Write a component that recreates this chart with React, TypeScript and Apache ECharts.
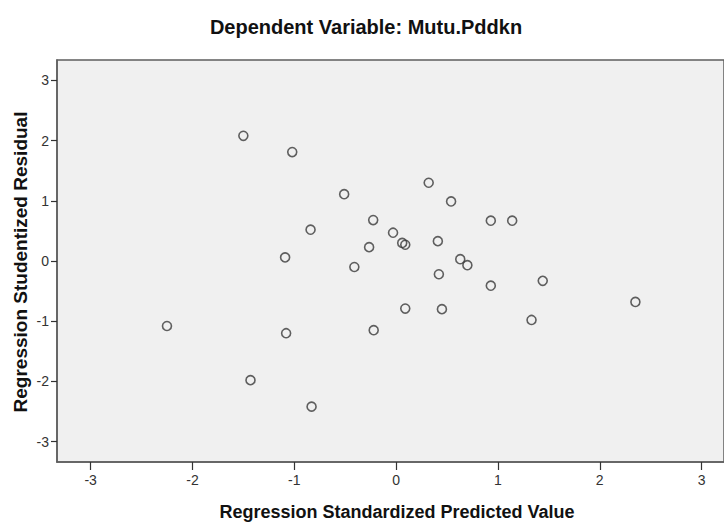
import React, { useEffect, useRef } from "react";
import * as echarts from "echarts";

const xValues = [
  -1.5, -1.02, -0.51, 0.32, 0.54, -0.225, 0.93, 1.14, -0.84, -0.03,
  0.06, 0.09, -0.265, 0.41, -1.09, 0.63, 0.7, -0.41, 0.42, 1.44,
  0.93, 2.35, 0.09, 0.45, 1.33, -2.25, -1.08, -0.22, -1.43, -0.83,
];
const yValues = [
  2.08, 1.81, 1.11, 1.3, 0.99, 0.68, 0.67, 0.67, 0.52, 0.47,
  0.3, 0.27, 0.23, 0.33, 0.06, 0.03, -0.07, -0.1, -0.22, -0.33,
  -0.41, -0.68, -0.79, -0.8, -0.98, -1.08, -1.2, -1.15, -1.98, -2.42,
];
const xTicks = [-3, -2, -1, 0, 1, 2, 3];
const yTicks = [-3, -2, -1, 0, 1, 2, 3];

const titleText = "Dependent Variable: Mutu.Pddkn";
const xName = "Regression Standardized Predicted Value";
const yName = "Regression Studentized Residual";

const FONT = "'Liberation Sans', Arial, Helvetica, sans-serif";

export default function App() {
  const ref = useRef<HTMLDivElement>(null);
  useEffect(() => {
    if (!ref.current) return;
    const chart = echarts.init(ref.current, null, { renderer: "svg" });
    const data = xValues.map((x, i) => [x, yValues[i]]);
    chart.setOption({
      animation: false,
      backgroundColor: "#ffffff",
      grid: {
        left: 57,
        top: 60,
        right: 0,
        bottom: 63,
        show: true,
        backgroundColor: "#f0f0f0",
        borderColor: "#5e5e5e",
        borderWidth: 1.5,
      },
      xAxis: {
        type: "value",
        min: -3.33,
        max: 3.22,
        splitLine: { show: false },
        axisLine: { show: true, onZero: false, lineStyle: { color: "#5e5e5e", width: 1.5 } },
        axisTick: {
          show: true,
          length: 8,
          customValues: xTicks,
          lineStyle: { color: "#333", width: 1.2 },
        },
        axisLabel: {
          customValues: xTicks,
          color: "#333",
          fontSize: 14,
          fontFamily: FONT,
          margin: 11,
        },
      },
      yAxis: {
        type: "value",
        min: -3.34,
        max: 3.34,
        splitLine: { show: false },
        axisLine: { show: true, onZero: false, lineStyle: { color: "#5e5e5e", width: 1.5 } },
        axisTick: {
          show: true,
          length: 6,
          customValues: yTicks,
          lineStyle: { color: "#333", width: 1.2 },
        },
        axisLabel: {
          customValues: yTicks,
          color: "#333",
          fontSize: 14,
          fontFamily: FONT,
          margin: 8,
        },
      },
      graphic: [
        {
          type: "text",
          x: 366,
          y: 27,
          style: {
            text: titleText,
            fill: "#111",
            font: `bold 20px ${FONT}`,
            textAlign: "center",
            textVerticalAlign: "middle",
          },
        },
        {
          type: "text",
          x: 397,
          y: 512,
          style: {
            text: xName,
            fill: "#111",
            font: `bold 18px ${FONT}`,
            textAlign: "center",
            textVerticalAlign: "middle",
          },
        },
        {
          type: "text",
          x: 20,
          y: 262,
          rotation: Math.PI / 2,
          style: {
            text: yName,
            fill: "#111",
            font: `bold 19px ${FONT}`,
            textAlign: "center",
            textVerticalAlign: "middle",
          },
        },
      ],
      series: [
        {
          type: "scatter",
          data,
          symbol: "circle",
          symbolSize: 9,
          itemStyle: {
            color: "rgba(0,0,0,0)",
            borderColor: "#3a3a3a",
            borderWidth: 1.6,
          },
          emphasis: { disabled: true },
        },
      ],
    });
    return () => chart.dispose();
  }, []);
  return (
    <div
      ref={ref}
      style={{ position: "absolute", left: 0, top: 0, width: 724, height: 525 }}
    />
  );
}
